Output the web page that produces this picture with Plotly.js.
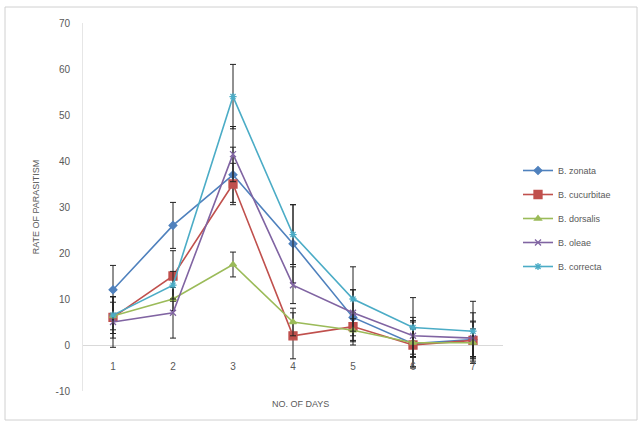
<!DOCTYPE html>
<html><head><meta charset="utf-8">
<script src="https://cdn.plot.ly/plotly-3.0.1.min.js"></script>
<style>html,body{margin:0;padding:0;background:#fff}#chart{width:642px;height:425px}</style>
</head><body><div id="chart"></div>
<script>
const days = [1, 2, 3, 4, 5, 6, 7];
const dayLabels = ['1', '2', '3', '4', '5', '6', '7'];
const seriesNames = ['B. zonata', 'B. cucurbitae', 'B. dorsalis', 'B. oleae', 'B. correcta'];
const zonata     = [12, 26, 37, 22, 6, 0.3, 1.2];
const cucurbitae = [6, 15, 35, 2, 4, 0, 1];
const dorsalis   = [6.3, 10, 17.5, 5, 3.2, 0.5, 0.5];
const oleae      = [5, 7, 41.5, 13, 7, 2, 1.5];
const correcta   = [6.5, 13, 54, 24, 10, 3.8, 3];
const zonataErr     = [5.3, 5, 6, 8.5, 6, 5, 4];
const cucurbitaeErr = [4.5, 5.5, 4.5, 5, 3, 5, 4];
const dorsalisErr   = [3, 2.5, 2.7, 3, 2.5, 3, 3];
const oleaeErr      = [5.5, 5.5, 6, 4, 5, 4, 5.5];
const correctaErr   = [4, 3, 7, 6.5, 7, 6.5, 6.5];
const yTicks = [-10, 0, 10, 20, 30, 40, 50, 60, 70];

const values = [zonata, cucurbitae, dorsalis, oleae, correcta];
const errs = [zonataErr, cucurbitaeErr, dorsalisErr, oleaeErr, correctaErr];
const colors = ['#4F81BD', '#C0504D', '#9BBB59', '#8064A2', '#4BACC6'];
const symbols = ['diamond', 'square', 'triangle-up', 'x-thin-open', 'asterisk-open'];
const sizes = [6, 8, 6, 6, 6];

const traces = values.map((v, i) => ({
  type: 'scatter', mode: 'lines+markers', name: seriesNames[i], legendgroup: 'g' + i,
  x: days, y: v,
  line: {color: colors[i], width: 1.6},
  marker: {symbol: symbols[i], size: sizes[i], color: colors[i], line: {color: colors[i], width: 1.3}},
  error_y: {type: 'data', array: errs[i], visible: true, color: '#222', thickness: 1, width: 3}
}));

const L = 83, R = 503, T = 23, B = 391;
const px = x => (x - L) / (R - L);
const py = y => (B - y) / (B - T);

const layout = {
  width: 642, height: 425,
  margin: {l: L, r: 642 - R, t: T, b: 425 - B},
  paper_bgcolor: '#fff', plot_bgcolor: '#fff',
  font: {family: 'Liberation Sans, Arial, sans-serif', color: '#595959', size: 10},
  showlegend: true,
  legend: {x: px(518), y: py(156), xanchor: 'left', yanchor: 'top', traceorder: 'grouped', tracegroupgap: 5,
           font: {size: 9, color: '#595959'}, itemwidth: 30, bgcolor: 'rgba(0,0,0,0)'},
  xaxis: {
    type: 'linear', range: [0.5, 7.5], tickvals: days, ticktext: dayLabels,
    anchor: 'free', position: 0.125, showline: false, zeroline: false, showgrid: false,
    ticks: '', ticklen: 0, ticklabelstandoff: 14, tickfont: {size: 10, color: '#595959'}
  },
  yaxis: {
    range: [-10, 70], tickvals: yTicks, ticktext: yTicks.map(String),
    showgrid: false, zeroline: true, zerolinecolor: '#d9d9d9', zerolinewidth: 1,
    showline: true, linecolor: '#e6e6e6', linewidth: 1, ticks: '', ticklabelstandoff: 10,
    tickfont: {size: 10, color: '#595959'},
    title: {text: 'RATE OF PARASITISM', font: {size: 9, color: '#595959'}, standoff: 14}
  },
  annotations: [{
    text: 'NO. OF DAYS', xref: 'paper', yref: 'paper', x: px(300), y: py(404),
    showarrow: false, font: {size: 9, color: '#595959'}, xanchor: 'center', yanchor: 'middle'
  }],
  shapes: [{
    type: 'rect', xref: 'paper', yref: 'paper',
    x0: px(5), x1: px(637), y0: py(420), y1: py(7),
    line: {color: '#d0d0d0', width: 1}
  }]
};

Plotly.newPlot('chart', traces, layout, {displayModeBar: false, staticPlot: true});
</script></body></html>
